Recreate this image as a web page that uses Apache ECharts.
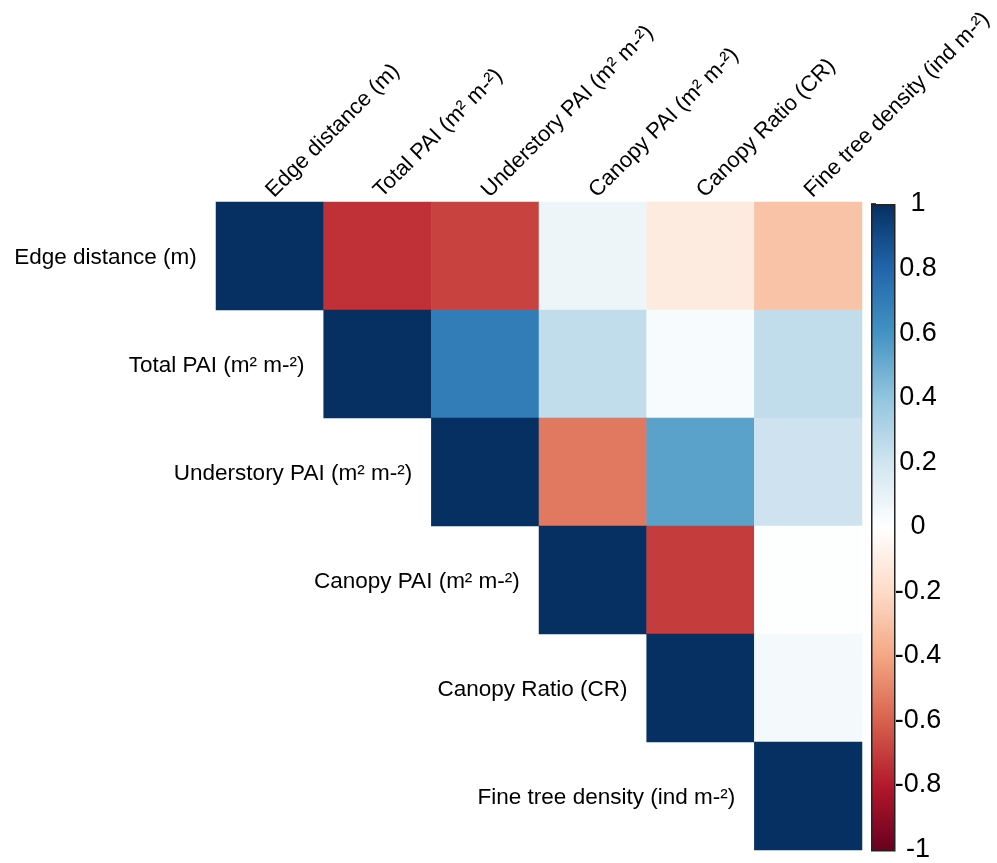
<!DOCTYPE html>
<html>
<head>
<meta charset="utf-8">
<script src="https://cdn.jsdelivr.net/npm/echarts@6/dist/echarts.min.js"></script>
<style>html,body{margin:0;padding:0;background:#fff}#c{width:997px;height:863px}</style>
</head>
<body>
<div id="c"></div>
<script>
const variables = [
  'Edge distance (m)',
  'Total PAI (m² m-²)',
  'Understory PAI (m² m-²)',
  'Canopy PAI (m² m-²)',
  'Canopy Ratio (CR)',
  'Fine tree density (ind m-²)'
];
// upper-triangle correlation rows (from diagonal to the right)
const rowEdge       = [1, -0.73, -0.68, 0.08, -0.11, -0.29];
const rowTotal      = [1, 0.70, 0.25, 0.03, 0.25];
const rowUnderstory = [1, -0.53, 0.54, 0.21];
const rowCanopy     = [1, -0.70, 0.01];
const rowRatio      = [1, 0.05];
const rowFine       = [1];
const colorbarTicks = [-1, -0.8, -0.6, -0.4, -0.2, 0, 0.2, 0.4, 0.6, 0.8, 1];
const palette = ['#67001F','#B2182B','#D6604D','#F4A582','#FDDBC7','#FFFFFF','#D1E5F0','#92C5DE','#4393C3','#2166AC','#053061'];

const rows = [rowEdge, rowTotal, rowUnderstory, rowCanopy, rowRatio, rowFine];
const cells = [];
rows.forEach((r, i) => r.forEach((v, k) => cells.push([i + k, i, v])));
const diag = variables.map((_, i) => [i, i]);

const font = 'Liberation Sans, Arial, sans-serif';
const chart = echarts.init(document.getElementById('c'));
chart.setOption({
  animation: false,
  backgroundColor: '#fff',
  grid: [
    {left: 216, top: 202, width: 646, height: 648},
    {left: 871, top: 204, width: 23, height: 646}
  ],
  xAxis: [
    {type: 'category', data: variables, position: 'top', gridIndex: 0,
     axisLine: {show: false}, axisTick: {show: false}, splitLine: {show: false},
     axisLabel: {rotate: -45, color: '#000', fontFamily: font, fontSize: 22, margin: 8, interval: 0}},
    {type: 'value', gridIndex: 1, show: false, min: 0, max: 1}
  ],
  yAxis: [
    {type: 'category', data: variables, inverse: true, gridIndex: 0,
     axisLine: {show: false}, axisTick: {show: false}, axisLabel: {show: false}, splitLine: {show: false}},
    {type: 'value', gridIndex: 1, position: 'right', min: -1, max: 1,
     axisLine: {show: false},
     axisTick: {show: true, length: 5, lineStyle: {color: '#000', width: 1.5}, customValues: colorbarTicks},
     axisLabel: {color: '#000', fontFamily: font, fontSize: 27, margin: 24, align: 'center',
       padding: [5, 0, 0, 0],
       customValues: colorbarTicks,
       formatter: v => String(Math.round(v * 10) / 10)},
     splitLine: {show: false}}
  ],
  visualMap: {show: false, min: -1, max: 1, seriesIndex: 0, dimension: 2, inRange: {color: palette}},
  graphic: [{
    type: 'rect', left: 871, top: 204, z: 10,
    shape: {width: 23, height: 646},
    style: {
      fill: new echarts.graphic.LinearGradient(0, 0, 0, 1,
        palette.slice().reverse().map((c, i) => ({offset: i / (palette.length - 1), color: c}))),
      stroke: '#222', lineWidth: 1.5
    }
  }],
  series: [
    {type: 'heatmap', xAxisIndex: 0, yAxisIndex: 0, data: cells,
     itemStyle: {borderWidth: 0}, emphasis: {disabled: true}},
    {type: 'scatter', xAxisIndex: 0, yAxisIndex: 0, data: diag, symbolSize: 0,
     itemStyle: {opacity: 1},
     label: {show: true, position: 'left', distance: 73, color: '#000', fontFamily: font, fontSize: 22.5,
       offset: [0, 2],
       formatter: p => variables[p.data[1]]}}
  ]
});
</script>
</body>
</html>
